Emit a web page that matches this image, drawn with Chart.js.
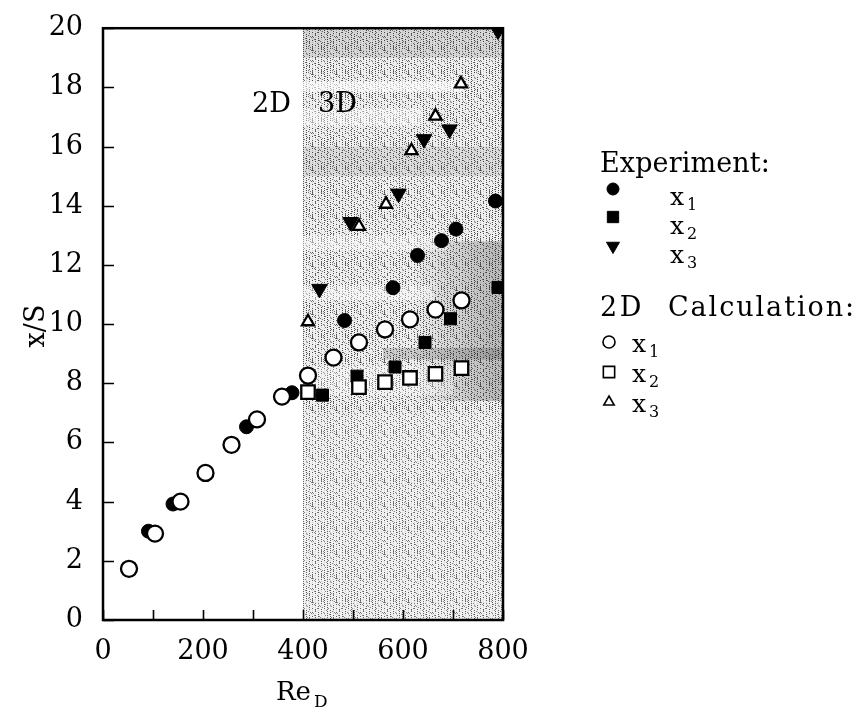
<!DOCTYPE html>
<html><head><meta charset="utf-8">
<style>html,body{margin:0;padding:0;background:#fff;}#wrap{width:864px;height:712px;}</style>
<script src="https://cdn.jsdelivr.net/npm/chart.js@4/dist/chart.umd.min.js"></script>
</head><body><div id="wrap"><canvas id="c" width="864" height="712"></canvas></div>
<script>
// ---- data (Re_D on x, x/S on y) ----
const xTickValues = [0, 200, 400, 600, 800];
const yTickValues = [0, 2, 4, 6, 8, 10, 12, 14, 16, 18, 20];
const regime3D = [400, 800];

const expX1Re = [91, 140, 287, 378, 483, 580, 629, 677, 706, 785];
const expX1   = [3.0, 3.92, 6.53, 7.68, 10.12, 11.23, 12.32, 12.82, 13.21, 14.16];
const expX2Re = [439, 508, 584, 644, 695, 790];
const expX2   = [7.6, 8.24, 8.55, 9.38, 10.18, 11.24];
const expX3Re = [433, 495, 591, 642, 693, 790];
const expX3   = [11.19, 13.45, 14.41, 16.25, 16.58, 19.92];

const calcX1Re = [52, 104, 155, 205, 257, 308, 358, 410, 461, 512, 564, 614, 665, 717];
const calcX1   = [1.73, 2.92, 4.0, 4.97, 5.92, 6.78, 7.55, 8.26, 8.87, 9.38, 9.82, 10.16, 10.49, 10.8];
const calcX2Re = [410, 512, 564, 614, 665, 717];
const calcX2   = [7.7, 7.87, 8.04, 8.18, 8.32, 8.51];
const calcX3Re = [410, 512, 566, 617, 665, 716];
const calcX3   = [10.08, 13.3, 14.05, 15.86, 17.03, 18.12];

const FONT = '"DejaVu Serif", serif';
const pts = (xs, ys) => xs.map((x, i) => ({x: x, y: ys[i]}));

function makePattern(ctx) {
  const n = 24, c = document.createElement('canvas');
  c.width = n; c.height = n;
  const g = c.getContext('2d');
  const img = g.createImageData(n, n);
  for (let y = 0; y < n; y++) for (let x = 0; x < n; x++) {
    const s = (((x - 3 * y) % 6) + 6) % 6;
    const h = (x * 37 + y * 91 + x * y * 13) % 11;
    let v = 240;
    if (s === 0) v = (h < 7) ? 75 : 205;
    else if (h === 3) v = 120;
    const k = (y * n + x) * 4;
    img.data[k] = img.data[k + 1] = img.data[k + 2] = v; img.data[k + 3] = 255;
  }
  g.putImageData(img, 0, 0);
  return ctx.createPattern(c, 'repeat');
}

function fitText(ctx, text, x, y, width) {
  try { ctx.letterSpacing = '0px'; } catch (e) {}
  const w = ctx.measureText(text).width;
  const sp = Math.max(0, (width - w) / text.length);
  try { ctx.letterSpacing = sp.toFixed(2) + 'px'; } catch (e) {}
  ctx.fillText(text, x, y);
  try { ctx.letterSpacing = '0px'; } catch (e) {}
}

const shadePlugin = {
  id: 'shade',
  beforeDatasetsDraw(chart) {
    const {ctx, chartArea: a, scales: {x, y}} = chart;
    const x0 = x.getPixelForValue(regime3D[0]), x1 = x.getPixelForValue(regime3D[1]);
    ctx.save();
    ctx.fillStyle = makePattern(ctx);
    ctx.fillRect(x0, a.top, x1 - x0, a.bottom - a.top);
    // darker and lighter bands of the scanned shading
    const band = (r0, r1, v0, v1, col) => {
      const px0 = x.getPixelForValue(r0), px1 = x.getPixelForValue(r1);
      const py0 = y.getPixelForValue(v1), py1 = y.getPixelForValue(v0);
      ctx.fillStyle = col; ctx.fillRect(px0, py0, px1 - px0, py1 - py0);
    };
    const gx0 = x.getPixelForValue(620), gx1 = x.getPixelForValue(780);
    const grad = ctx.createLinearGradient(gx0, 0, gx1, 0);
    grad.addColorStop(0, 'rgba(0,0,0,0)');
    grad.addColorStop(1, 'rgba(0,0,0,0.22)');
    band(620, 800, 7.4, 12.8, grad);
    band(560, 800, 8.8, 9.2, 'rgba(0,0,0,0.15)');
    band(400, 800, 19.0, 20, 'rgba(0,0,0,0.10)');
    band(400, 800, 15.0, 16.0, 'rgba(0,0,0,0.08)');
    band(400, 720, 17.85, 18.2, 'rgba(255,255,255,0.6)');
    band(400, 640, 16.7, 17.3, 'rgba(255,255,255,0.45)');
    band(400, 690, 12.5, 13.0, 'rgba(255,255,255,0.4)');
    band(400, 660, 10.8, 11.3, 'rgba(255,255,255,0.4)');
    band(420, 700, 7.6, 8.6, 'rgba(255,255,255,0.3)');
    band(400, 800, 0, 7.0, 'rgba(255,255,255,0.12)');
    ctx.restore();
  },
  afterDatasetsDraw(chart) {
    const {ctx, chartArea: a, scales: {x, y}} = chart;
    ctx.save();
    ctx.strokeStyle = '#000';
    ctx.lineWidth = 1.6;
    // inward tick marks
    ctx.beginPath();
    for (let v = 0; v <= 800; v += 100) {
      const px = Math.round(x.getPixelForValue(v)) + 0.5;
      ctx.moveTo(px, a.bottom); ctx.lineTo(px, a.bottom - 10);
    }
    yTickValues.forEach(v => {
      const py = Math.round(y.getPixelForValue(v)) + 0.5;
      ctx.moveTo(a.left, py); ctx.lineTo(a.left + 11, py);
    });
    ctx.stroke();
    // frame
    ctx.lineWidth = 2.5;
    ctx.strokeRect(a.left, a.top, a.right - a.left, a.bottom - a.top);
    ctx.restore();
  },
  afterDraw(chart) {
    const {ctx} = chart;
    ctx.save();
    ctx.fillStyle = '#000';
    ctx.textBaseline = 'alphabetic';
    ctx.textAlign = 'left';
    ctx.font = '27px ' + FONT;
    // regime labels
    ctx.fillText('2D', 252, 112);
    ctx.fillText('3D', 318, 112);
    // axis titles
    ctx.save();
    ctx.translate(44, 326); ctx.rotate(-Math.PI / 2);
    ctx.textAlign = 'center';
    ctx.fillText('x/S', 0, 0);
    ctx.restore();
    ctx.font = '26px ' + FONT;
    ctx.fillText('Re', 276, 700);
    ctx.font = '17px ' + FONT;
    ctx.fillText('D', 314, 707);
    // legend
    const sub = (lx, ly, d) => {
      ctx.font = '25px ' + FONT; ctx.fillText('x', lx, ly);
      ctx.font = '16px ' + FONT; ctx.fillText(d, lx + 17, ly + 5);
    };
    ctx.font = '27px ' + FONT;
    fitText(ctx, 'Experiment:', 600, 172, 170);
    fitText(ctx, '2D', 600, 316, 44);
    fitText(ctx, 'Calculation:', 668, 316, 188);
    const mk = (style, r, rot, filled, px, py) => {
      ctx.save();
      ctx.fillStyle = filled ? '#000' : '#fff';
      ctx.strokeStyle = '#000';
      ctx.lineWidth = filled ? 1 : 1.6;
      Chart.helpers.drawPoint(ctx, {pointStyle: style, radius: r, rotation: rot, borderWidth: ctx.lineWidth}, px, py);
      ctx.restore();
    };
    mk('circle', 6, 0, true, 613, 189);
    mk('rect', 8, 0, true, 613, 217);
    mk('triangle', 7.5, 180, true, 613, 246);
    ctx.fillStyle = '#000';
    sub(670, 205, '1'); sub(670, 234, '2'); sub(670, 263, '3');
    mk('circle', 6, 0, false, 609, 342);
    mk('rect', 8, 0, false, 609, 372);
    mk('triangle', 6, 0, false, 609, 402);
    ctx.fillStyle = '#000';
    sub(632, 352, '1'); sub(632, 382, '2'); sub(632, 412, '3');
    ctx.restore();
  }
};

const openStyle = (data, style, r) => ({
  data: data, pointStyle: style, pointRadius: r, pointHoverRadius: r,
  pointBackgroundColor: '#fff', pointBorderColor: '#000', pointBorderWidth: 2.3, showLine: false
});
const fillStyle = (data, style, r, rot) => ({
  data: data, pointStyle: style, pointRadius: r, pointHoverRadius: r, pointRotation: rot || 0,
  pointBackgroundColor: '#000', pointBorderColor: '#000', pointBorderWidth: 1, showLine: false
});

new Chart(document.getElementById('c'), {
  type: 'scatter',
  data: {
    datasets: [
      Object.assign({label: '2D Calculation x1'}, openStyle(pts(calcX1Re, calcX1), 'circle', 8)),
      Object.assign({label: '2D Calculation x2'}, openStyle(pts(calcX2Re, calcX2), 'rect', 9.5)),
      Object.assign({label: '2D Calculation x3'}, openStyle(pts(calcX3Re, calcX3), 'triangle', 7)),
      Object.assign({label: 'Experiment x1'}, fillStyle(pts(expX1Re, expX1), 'circle', 7)),
      Object.assign({label: 'Experiment x2'}, fillStyle(pts(expX2Re, expX2), 'rect', 8.5)),
      Object.assign({label: 'Experiment x3'}, fillStyle(pts(expX3Re, expX3), 'triangle', 9, 180))
    ]
  },
  options: {
    responsive: false, animation: false, devicePixelRatio: 1,
    layout: {padding: {left: 0, top: 21, right: 361, bottom: 0}},
    plugins: {legend: {display: false}, tooltip: {enabled: false}},
    scales: {
      x: {
        type: 'linear', min: 0, max: 800,
        afterBuildTicks: s => { s.ticks = xTickValues.map(v => ({value: v})); },
        afterFit: s => { s.height = 92; },
        grid: {display: false}, border: {display: false},
        ticks: {color: '#000', font: {family: FONT, size: 27}, padding: 8, maxRotation: 0, autoSkip: false}
      },
      y: {
        type: 'linear', min: 0, max: 20,
        afterBuildTicks: s => { s.ticks = yTickValues.map(v => ({value: v})); },
        afterFit: s => { s.width = 103; },
        grid: {display: false}, border: {display: false},
        ticks: {color: '#000', font: {family: FONT, size: 27}, padding: 12, autoSkip: false}
      }
    }
  },
  plugins: [shadePlugin]
});
</script>
</body></html>
